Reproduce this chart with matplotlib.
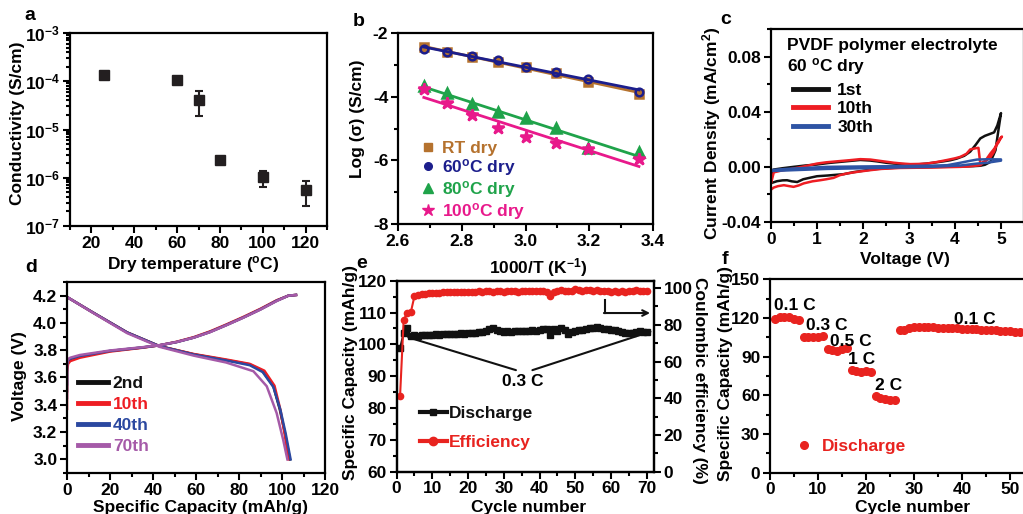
import numpy as np
import matplotlib
matplotlib.use('Agg')
import matplotlib.pyplot as plt
from matplotlib.ticker import MultipleLocator, FixedLocator, FormatStrFormatter, LogLocator, NullFormatter
from matplotlib.lines import Line2D

plt.rcParams['font.family'] = ['Liberation Sans', 'DejaVu Sans']
plt.rcParams['font.weight'] = 'bold'
plt.rcParams['axes.labelweight'] = 'bold'
plt.rcParams['mathtext.fontset'] = 'custom'
plt.rcParams['mathtext.rm'] = 'Liberation Sans:bold'
plt.rcParams['mathtext.bf'] = 'Liberation Sans:bold'
plt.rcParams['mathtext.it'] = 'Liberation Sans:bold:italic'
plt.rcParams['mathtext.default'] = 'rm'
plt.rcParams['axes.unicode_minus'] = False
plt.rcParams['axes.linewidth'] = 1.6

FS = 12.5

# ---- a: conductivity vs dry temperature
dry_temp = [26, 60, 70, 80, 100, 120]
cond = [1.38e-4, 1.05e-4, 4.0e-5, 2.3e-6, 1.03e-6, 5.7e-7]
cond_low = [1.32e-4, 0.99e-4, 1.95e-5, 2.15e-6, 6.5e-7, 2.6e-7]
cond_high = [1.45e-4, 1.12e-4, 6.2e-5, 2.45e-6, 1.37e-6, 8.7e-7]

# ---- b: Arrhenius
inv_T = [2.681, 2.755, 2.833, 2.915, 3.003, 3.096, 3.195, 3.356]
log_rt = [-2.45, -2.61, -2.75, -2.90, -3.06, -3.27, -3.53, -3.92]
log_60 = [-2.50, -2.61, -2.72, -2.85, -3.06, -3.24, -3.45, -3.85]
log_80 = [-3.67, -3.90, -4.23, -4.47, -4.68, -4.98, -5.62, -5.73]
log_100 = [-3.76, -4.19, -4.58, -4.98, -5.26, -5.47, -5.65, -5.97]

# ---- c: CV loops (voltage, current density)
cv1_v = [0.0, 0.05, 0.25, 0.49, 0.75, 1.0, 1.25, 1.5, 1.75, 1.94, 2.15, 2.3, 2.5, 2.67, 2.85,
         3.03, 3.2, 3.39, 3.6, 3.75, 3.9, 4.04, 4.2, 4.33, 4.45, 4.55, 4.65, 4.77, 4.85, 4.92, 5.0,
         4.95, 4.88, 4.77, 4.65, 4.55, 4.4, 4.1, 3.7, 3.2, 2.67, 2.3, 2.09, 1.8, 1.58, 1.22, 1.0,
         0.86, 0.7, 0.57, 0.45, 0.35, 0.25, 0.13, 0.02, 0.0]
cv1_i = [-0.006, -0.002, -0.001, 0.0, 0.001, 0.0017, 0.0028, 0.0036, 0.0044, 0.005, 0.0046, 0.004,
         0.003, 0.0024, 0.002, 0.0017, 0.0018, 0.0024, 0.0033, 0.004, 0.0048, 0.006, 0.008, 0.011,
         0.016, 0.0206, 0.0225, 0.024, 0.025, 0.030, 0.039,
         0.028, 0.012, 0.0036, 0.0015, 0.0008, 0.0005, 0.0002, 0.0, -0.0003, -0.0007, -0.0015,
         -0.0024, -0.0038, -0.0053, -0.0063, -0.0068, -0.0078, -0.009, -0.011, -0.0105, -0.0097,
         -0.0098, -0.0104, -0.0116, -0.006]
cv10_v = [0.0, 0.06, 0.25, 0.49, 0.75, 1.0, 1.2, 1.43, 1.7, 1.94, 2.16, 2.4, 2.67, 2.85, 3.03, 3.2,
          3.39, 3.6, 3.83, 4.0, 4.12, 4.25, 4.33, 4.45, 4.51, 4.53, 4.55, 4.62, 4.7, 4.77, 4.85,
          4.91, 4.97, 5.02,
          4.98, 4.95, 4.85, 4.77, 4.65, 4.55, 4.3, 4.12, 3.5, 2.8, 2.4, 2.16, 1.9, 1.65, 1.5, 1.36,
          1.2, 1.07, 0.9, 0.71, 0.6, 0.49, 0.4, 0.28, 0.15, 0.06, 0.0]
cv10_i = [-0.012, -0.004, -0.0025, -0.0012, 0.0005, 0.0024, 0.0033, 0.004, 0.0048, 0.0056, 0.0053,
          0.0042, 0.003, 0.0024, 0.002, 0.0021, 0.0024, 0.0035, 0.005, 0.0062, 0.0073, 0.0095,
          0.0126, 0.0135, 0.0138, 0.008, 0.0024, 0.0035, 0.0052, 0.007, 0.011, 0.017, 0.020, 0.022,
          0.020, 0.018, 0.013, 0.0097, 0.004, 0.0012, 0.0003, 0.0, -0.0005, -0.0008, -0.0015,
          -0.0024, -0.0035, -0.0048, -0.006, -0.008, -0.009, -0.0097, -0.0105, -0.012, -0.0135,
          -0.0145, -0.014, -0.0133, -0.014, -0.015, -0.0165]
cv30_v = [0.0, 0.2, 0.49, 1.22, 2.0, 2.67, 3.5, 3.83, 4.12, 4.3, 4.48, 4.7, 5.0,
          5.0, 4.7, 4.48, 4.12, 3.5, 2.67, 2.0, 1.22, 0.49, 0.2, 0.0]
cv30_i = [-0.0024, -0.0018, -0.0012, 0.0, 0.0003, 0.0005, 0.0009, 0.0012, 0.003, 0.0042, 0.0053,
          0.0055, 0.0054,
          0.0045, 0.003, 0.0024, 0.001, 0.0, -0.0005, -0.001, -0.0015, -0.0024, -0.0028, -0.003]

# ---- d: charge / discharge profiles
chg_cap = [0, 0, 0.5, 1.5, 6, 20, 35, 43, 51, 59, 66.5, 74, 82, 90, 97.5, 103, 106.5]
chg_v_2 = [3.50, 3.68, 3.72, 3.735, 3.757, 3.794, 3.82, 3.836, 3.86, 3.893, 3.934, 3.984, 4.04, 4.10, 4.163, 4.20, 4.205]
chg_v_10 = [3.37, 3.64, 3.70, 3.72, 3.745, 3.79, 3.818, 3.836, 3.862, 3.896, 3.938, 3.988, 4.044, 4.104, 4.166, 4.20, 4.205]
chg_v_40 = [3.55, 3.69, 3.725, 3.738, 3.758, 3.795, 3.82, 3.836, 3.86, 3.893, 3.934, 3.984, 4.04, 4.10, 4.163, 4.20, 4.205]
chg_v_70 = [3.45, 3.70, 3.735, 3.745, 3.765, 3.798, 3.822, 3.837, 3.86, 3.892, 3.932, 3.982, 4.038, 4.098, 4.16, 4.20, 4.205]
dis_cap_2 = [0, 12, 28, 43, 59, 74, 85, 91, 96, 99, 101.4, 103.7]
dis_v_2 = [4.19, 4.077, 3.93, 3.83, 3.77, 3.728, 3.696, 3.646, 3.536, 3.364, 3.19, 3.0]
dis_cap_10 = [0, 12, 28, 43, 59, 74, 85, 91.8, 96.5, 99.3, 101.2, 103.0]
dis_v_10 = [4.19, 4.077, 3.93, 3.83, 3.772, 3.732, 3.70, 3.65, 3.54, 3.36, 3.19, 3.0]
dis_cap_40 = [0, 12, 28, 43, 59, 74, 85, 91, 96, 99.3, 101.7, 104.0]
dis_v_40 = [4.19, 4.077, 3.93, 3.83, 3.768, 3.725, 3.69, 3.64, 3.53, 3.36, 3.19, 3.0]
dis_cap_70 = [0, 12, 28, 43, 59, 74, 86.7, 92.9, 97.5, 100.6, 102.5]
dis_v_70 = [4.19, 4.075, 3.925, 3.825, 3.76, 3.71, 3.646, 3.536, 3.34, 3.14, 3.0]

# ---- e: cycling at 0.3 C
cycle_e = list(range(1, 71))
discharge_e = [98.8, 103.5, 105.0, 102.5, 102.8, 102.6, 102.8, 102.9, 103.0, 103.0,
               103.1, 103.0, 103.2, 103.3, 103.3, 103.4, 103.3, 103.5, 103.4, 103.6,
               103.6, 103.7, 103.8, 104.0, 104.3, 104.7, 105.0, 104.6, 104.3, 104.0,
               104.2, 104.0, 104.1, 104.3, 104.2, 104.1, 104.3, 104.4, 104.3, 104.5,
               104.7, 104.8, 103.0, 104.8, 104.2, 105.2, 104.6, 103.4, 103.8, 104.2,
               104.4, 104.6, 104.8, 105.0, 105.1, 105.4, 105.2, 104.9, 104.7, 104.5,
               104.5, 104.2, 104.0, 103.6, 103.7, 103.5, 103.9, 104.2, 103.8, 103.8]
efficiency_e = [41.3, 82.7, 86.4, 86.8, 95.4, 96.2, 96.6, 96.9, 97.1, 97.2,
                97.4, 97.4, 97.6, 97.7, 97.8, 97.8, 97.9, 98.0, 97.9, 98.0,
                98.1, 98.0, 98.2, 98.1, 98.2, 98.2, 98.0, 98.2, 98.3, 98.1,
                98.3, 98.2, 98.3, 98.1, 98.4, 98.2, 98.3, 98.2, 98.4, 98.3,
                98.2, 97.8, 95.8, 97.6, 98.6, 99.0, 98.3, 98.2, 98.6, 99.3,
                98.8, 98.6, 98.9, 98.7, 98.5, 98.7, 98.4, 98.2, 98.3, 98.1,
                98.2, 98.0, 98.3, 98.1, 98.4, 98.6, 99.1, 98.5, 98.3, 98.4]

# ---- f: rate capability
cycle_f = list(range(1, 53))
discharge_f = [119.0, 120.5, 121.0, 120.5, 119.5, 118.5,
               105.5, 105.5, 105.0, 105.5, 106.0,
               96.0, 95.0, 94.5, 96.0, 96.5,
               80.0, 78.5, 78.0, 78.5, 78.0,
               59.5, 58.0, 57.0, 56.0, 56.0,
               111.0, 110.5, 112.0, 113.0, 113.0, 113.0, 112.8, 112.7, 112.5, 112.5,
               112.3, 112.2, 112.0, 111.8, 111.5, 111.3, 111.2, 111.0, 110.8, 110.6,
               110.5, 110.2, 110.0, 109.6, 109.3, 109.0]
rate_labels = ['0.1 C', '0.3 C', '0.5 C', '1 C', '2 C', '0.1 C']

W, H = 1023, 514
fig = plt.figure(figsize=(W / 100, H / 100), dpi=100)


def place(l, r, t, b):
    return fig.add_axes([l / W, 1 - b / H, (r - l) / W, (b - t) / H])


def ticks(ax):
    ax.tick_params(which='both', direction='out', width=1.5, labelsize=FS, pad=2)
    ax.tick_params(which='major', length=5)
    ax.tick_params(which='minor', length=3)


def letter(x, y, s):
    fig.text(x / W, 1 - y / H, s, ha='center', va='center', fontsize=14, fontweight='bold')


# a
ax = place(70, 327, 33, 226)
c_arr = np.array(cond)
yerr = [c_arr - np.array(cond_low), np.array(cond_high) - c_arr]
ax.errorbar(dry_temp, cond, yerr=yerr, fmt='s', color='#231f20', ms=6.5,
            capsize=3, elinewidth=1.5, capthick=1.5)
ax.set_yscale('log')
ax.set_ylim(1e-7, 1e-3)
ax.set_xlim(10, 130)
ax.xaxis.set_major_locator(MultipleLocator(20))
ax.xaxis.set_minor_locator(MultipleLocator(10))
ax.yaxis.set_major_locator(LogLocator(base=10, numticks=10))
ax.yaxis.set_minor_locator(LogLocator(base=10, subs=np.arange(2, 10), numticks=20))
ax.yaxis.set_minor_formatter(NullFormatter())
ticks(ax)
ax.set_xlabel('Dry temperature ($^{o}$C)', fontsize=FS)
ax.set_ylabel('Conductivity (S/cm)', fontsize=FS)
ax.xaxis.set_label_coords(0.479, -0.145)
ax.yaxis.set_label_coords(-0.175, 0.53)
letter(30, 15, 'a')

# b
ax = place(398, 653, 33, 224)
series_b = [(log_rt, '#b5722e', 's', 5.5, 'RT dry'),
            (log_60, '#1c1e8c', 'o', 5.5, '60$^{o}$C dry'),
            (log_80, '#1fa34a', '^', 7, '80$^{o}$C dry'),
            (log_100, '#e8198b', '*', 9, '100$^{o}$C dry')]
handles = []
for vals, col, mk, ms, lab in series_b:
    k, b0 = np.polyfit(inv_T, vals, 1)
    xs = np.array([inv_T[0], inv_T[-1]])
    ax.plot(xs, k * xs + b0, color=col, lw=2)
    ax.plot(inv_T, vals, mk, color=col, ms=ms, mfc='none' if mk == 'o' else col, mew=1.8)
    handles.append(Line2D([], [], ls='none', marker=mk, color=col, ms=ms))
ax.set_xlim(2.6, 3.4)
ax.set_ylim(-8, -2)
ax.xaxis.set_major_locator(MultipleLocator(0.2))
ax.xaxis.set_minor_locator(MultipleLocator(0.1))
ax.xaxis.set_major_formatter(FormatStrFormatter('%.1f'))
ax.yaxis.set_major_locator(MultipleLocator(2))
ax.yaxis.set_minor_locator(MultipleLocator(1))
ticks(ax)
ax.legend(handles, [s[4] for s in series_b], loc='upper left', bbox_to_anchor=(0.085, 0.434),
          frameon=False, fontsize=FS, handlelength=1.0, handletextpad=0.3, labelspacing=0.05,
          borderpad=0, borderaxespad=0, labelcolor=[s[1] for s in series_b])
ax.set_xlabel('1000/T (K$^{-1}$)', fontsize=FS)
ax.set_ylabel('Log (σ) (S/cm)', fontsize=FS)
ax.xaxis.set_label_coords(0.549, -0.168)
ax.yaxis.set_label_coords(-0.129, 0.55)
letter(359, 22, 'b')

# c
ax = place(771, 1024, 29, 222)
ax.plot(cv1_v, cv1_i, color='#111111', lw=1.8, label='1st')
ax.plot(cv10_v, cv10_i, color='#ee1d23', lw=1.8, label='10th')
ax.plot(cv30_v, cv30_i, color='#2e54a4', lw=1.8, label='30th')
ax.set_xlim(0, 5.5)
ax.set_ylim(-0.04, 0.10)
ax.xaxis.set_major_locator(FixedLocator([0, 1, 2, 3, 4, 5]))
ax.xaxis.set_minor_locator(MultipleLocator(0.5))
ax.yaxis.set_major_locator(FixedLocator([-0.04, 0.0, 0.04, 0.08]))
ax.yaxis.set_minor_locator(MultipleLocator(0.02))
ax.yaxis.set_major_formatter(FormatStrFormatter('%.2f'))
ticks(ax)
leg = ax.legend(loc='upper left', bbox_to_anchor=(0.087, 0.72), frameon=False, fontsize=FS,
                handlelength=2.0, handletextpad=0.55, labelspacing=0.18, borderpad=0,
                borderaxespad=0)
for h in leg.get_lines():
    h.set_linewidth(3.5)
ax.text(0.062, 0.917, 'PVDF polymer electrolyte', transform=ax.transAxes, fontsize=FS, va='center')
ax.text(0.062, 0.805, '60 $^{o}$C dry', transform=ax.transAxes, fontsize=FS, va='center')
ax.set_xlabel('Voltage (V)', fontsize=FS)
ax.set_ylabel('Current Density (mA/cm$^{2}$)', fontsize=FS)
ax.xaxis.set_label_coords(0.528, -0.155)
ax.yaxis.set_label_coords(-0.19, 0.46)
letter(726, 20, 'c')

# d
ax = place(67, 325, 282, 473)
d_series = [(chg_v_2, dis_cap_2, dis_v_2, '#111111', '2nd'),
            (chg_v_10, dis_cap_10, dis_v_10, '#ee1d23', '10th'),
            (chg_v_40, dis_cap_40, dis_v_40, '#2b48a0', '40th'),
            (chg_v_70, dis_cap_70, dis_v_70, '#a55aa8', '70th')]
for cv, dc, dv, col, lab in d_series:
    ax.plot(chg_cap, cv, color=col, lw=1.8, label=lab)
    ax.plot(dc, dv, color=col, lw=1.8)
ax.set_xlim(0, 120)
ax.set_ylim(2.9, 4.3)
ax.xaxis.set_major_locator(MultipleLocator(20))
ax.xaxis.set_minor_locator(MultipleLocator(10))
ax.yaxis.set_major_locator(FixedLocator([3.0, 3.2, 3.4, 3.6, 3.8, 4.0, 4.2]))
ax.yaxis.set_minor_locator(MultipleLocator(0.1))
ax.yaxis.set_major_formatter(FormatStrFormatter('%.1f'))
ticks(ax)
leg = ax.legend(loc='upper left', bbox_to_anchor=(0.043, 0.51), frameon=False, fontsize=FS,
                handlelength=1.7, handletextpad=0.3, labelspacing=0.35, borderpad=0,
                borderaxespad=0, labelcolor=[s[3] for s in d_series])
for h in leg.get_lines():
    h.set_linewidth(3.5)
ax.set_xlabel('Specific Capacity (mAh/g)', fontsize=FS)
ax.set_ylabel('Voltage (V)', fontsize=FS)
ax.xaxis.set_label_coords(0.518, -0.141)
ax.yaxis.set_label_coords(-0.155, 0.508)
letter(31, 267, 'd')

# e
ax = place(396.5, 654, 280.7, 471.7)
ax2 = ax.twinx()
ax.plot(cycle_e, discharge_e, '-s', color='#111111', ms=4, lw=1.5)
ax2.plot(cycle_e, efficiency_e, '-o', color='#e8231f', ms=4.5, lw=1.5)
ax.set_xlim(0, 72)
ax.set_ylim(60, 120)
ax2.set_ylim(0, 104)
ax.xaxis.set_major_locator(MultipleLocator(10))
ax.xaxis.set_minor_locator(MultipleLocator(5))
ax.yaxis.set_major_locator(MultipleLocator(10))
ax.yaxis.set_minor_locator(MultipleLocator(5))
ax2.yaxis.set_major_locator(MultipleLocator(20))
ax2.yaxis.set_minor_locator(MultipleLocator(10))
ticks(ax)
ticks(ax2)
ax.annotate('', xy=(3.3, 102.2), xytext=(33.4, 91.9),
            arrowprops=dict(arrowstyle='-', lw=1.5, color='#111111', shrinkA=0, shrinkB=0))
ax.annotate('', xy=(71.0, 104.0), xytext=(38.0, 91.9),
            arrowprops=dict(arrowstyle='-', lw=1.5, color='#111111', shrinkA=0, shrinkB=0))
ax.text(0.491, 0.47, '0.3 C', transform=ax.transAxes, fontsize=FS, ha='center', va='center')
ax2.plot([58.2, 58.2], [93.7, 86.4], color='#111111', lw=1.5)
ax2.annotate('', xy=(70.9, 86.4), xytext=(58.0, 86.4),
             arrowprops=dict(arrowstyle='->', lw=1.5, color='#111111', shrinkA=0, shrinkB=0))
h_e = [Line2D([], [], marker='s', color='#111111', ms=5, lw=3),
       Line2D([], [], marker='o', color='#e8231f', ms=6, lw=3)]
ax.legend(h_e, ['Discharge', 'Efficiency'], loc='upper left', bbox_to_anchor=(0.091, 0.344),
          frameon=False, fontsize=FS, handlelength=1.55, handletextpad=0.1, labelspacing=0.8,
          borderpad=0, borderaxespad=0, labelcolor=['#111111', '#e8231f'])
ax.set_xlabel('Cycle number', fontsize=FS)
ax.set_ylabel('Specific Capacity (mAh/g)', fontsize=FS)
ax.xaxis.set_label_coords(0.513, -0.148)
ax.yaxis.set_label_coords(-0.15, 0.517)
ax2.set_ylabel('Coulombic efficiency (%)', fontsize=FS, rotation=270, va='bottom')
ax2.yaxis.set_label_coords(1.146, 0.48)
letter(362, 263, 'e')

# f
ax = place(770, 1058, 279.3, 472.7)
ax.plot(cycle_f, discharge_f, 'o', color='#e8231f', ms=5.5, label='Discharge')
ax.set_xlim(0, 60)
ax.set_ylim(0, 150)
ax.xaxis.set_major_locator(FixedLocator([0, 10, 20, 30, 40, 50]))
ax.xaxis.set_minor_locator(MultipleLocator(5))
ax.yaxis.set_major_locator(MultipleLocator(30))
ax.yaxis.set_minor_locator(MultipleLocator(15))
ticks(ax)
rate_pos = [(795, 306), (827, 326), (851, 341), (862, 359), (889, 386), (975, 319)]
for lab, (px, py) in zip(rate_labels, rate_pos):
    ax.text((px - 770) / 288, (472.7 - py) / 193.4, lab, transform=ax.transAxes,
            fontsize=FS, ha='center', va='center')
ax.legend(loc='upper left', bbox_to_anchor=(0.089, 0.174), frameon=False, fontsize=FS,
          handlelength=1.0, handletextpad=0.5, borderpad=0, borderaxespad=0,
          labelcolor='#e8231f')
ax.set_xlabel('Cycle number', fontsize=FS)
ax.set_ylabel('Specific Capacity (mAh/g)', fontsize=FS)
ax.xaxis.set_label_coords(0.495, -0.141)
ax.yaxis.set_label_coords(-0.128, 0.515)
letter(725, 259, 'f')

fig.savefig('out.png', dpi=100)
